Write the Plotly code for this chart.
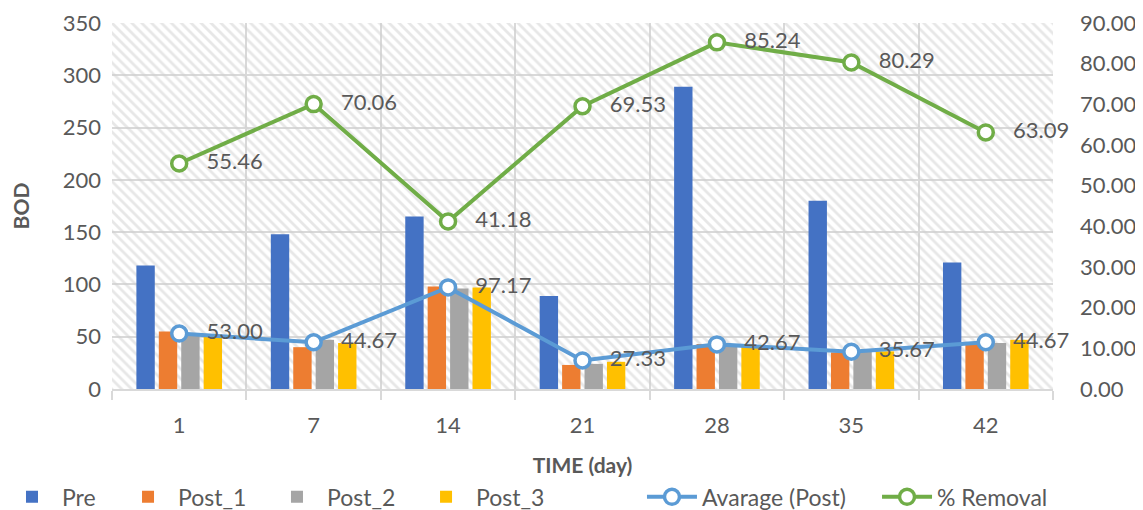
import plotly.graph_objects as go

days = ["1", "7", "14", "21", "28", "35", "42"]
pre = [118, 148, 165, 89, 289, 180, 121]
post_1 = [55, 40, 98, 23, 43, 35, 43]
post_2 = [52, 47, 96, 24, 42, 36, 44]
post_3 = [50, 44, 97, 26, 42, 36, 47]
average_post = [53.00, 44.67, 97.17, 27.33, 42.67, 35.67, 44.67]
removal = [55.46, 70.06, 41.18, 69.53, 85.24, 80.29, 63.09]

left_ticks = list(range(0, 351, 50))
right_ticks = list(range(0, 91, 10))

FONT = "Lato"
GREY_TXT = "#595959"
GRID = "#d9d9d9"

fig = go.Figure()

# hatched plot-area background (decoration) on hidden base axes
fig.add_trace(go.Scatter(
    x=[0, 1, 1, 0, 0], y=[0, 0, 1, 1, 0], xaxis="x", yaxis="y",
    mode="lines", line=dict(width=0), fill="toself",
    fillcolor="rgba(0,0,0,0)",
    fillpattern=dict(shape="\\", fgcolor="#d0d0d0", bgcolor="rgba(0,0,0,0)",
                     size=7, solidity=0.4),
    showlegend=False, hoverinfo="skip"))

bar_series = [("Pre", pre, "#4472C4", "legend"), ("Post_1", post_1, "#ED7D31", "legend2"),
              ("Post_2", post_2, "#A5A5A5", "legend3"), ("Post_3", post_3, "#FFC000", "legend4")]
for name, vals, col, lg in bar_series:
    fig.add_trace(go.Bar(x=days, y=vals, name=name, legend=lg,
                         marker=dict(color=col, line=dict(width=0)),
                         xaxis="x2", yaxis="y2"))

lbl = "\u00a0\u00a0\u00a0%{y:.2f}"
fig.add_trace(go.Scatter(
    x=days, y=average_post, name="Avarage (Post)", legend="legend5", xaxis="x2", yaxis="y2",
    mode="lines+markers+text", line=dict(color="#5B9BD5", width=4),
    marker=dict(size=15, color="white", line=dict(color="#5B9BD5", width=3.5)),
    texttemplate=lbl, textposition="middle right", cliponaxis=False,
    textfont=dict(family=FONT, size=22, color=GREY_TXT)))

fig.add_trace(go.Scatter(
    x=days, y=removal, name="% Removal", legend="legend6", xaxis="x2", yaxis="y3",
    mode="lines+markers+text", line=dict(color="#70AD47", width=4),
    marker=dict(size=15, color="white", line=dict(color="#70AD47", width=3.5)),
    texttemplate=lbl, textposition="middle right", cliponaxis=False,
    textfont=dict(family=FONT, size=22, color=GREY_TXT)))

tickfont = dict(family=FONT, size=22, color=GREY_TXT)


def legend_at(xpos):
    return dict(orientation="h", x=xpos, xanchor="left", y=-0.236, yanchor="top",
                font=dict(family=FONT, size=23, color=GREY_TXT),
                itemwidth=50, bgcolor="rgba(0,0,0,0)")


fig.update_layout(
    width=1135, height=510,
    margin=dict(l=104, r=90, t=15, b=129, autoexpand=False),
    paper_bgcolor="white", plot_bgcolor="white",
    barmode="group", bargap=0.333, bargroupgap=0.18,
    font=dict(family=FONT, color=GREY_TXT),
    xaxis=dict(range=[0, 1], visible=False, fixedrange=True),
    yaxis=dict(range=[0, 1], visible=False, fixedrange=True),
    xaxis2=dict(overlaying="x", anchor="y2", type="category", categoryorder="array",
                categoryarray=days, tickson="boundaries", showgrid=True,
                gridcolor=GRID, gridwidth=1.5, ticks="outside", ticklen=9,
                tickcolor=GRID, tickwidth=1.5, showline=True, linecolor=GRID,
                linewidth=1.5, tickfont=tickfont, ticklabelstandoff=16,
                automargin=False,
                title=dict(text="<b>TIME (day)</b>", standoff=21,
                           font=dict(family=FONT, size=21, color=GREY_TXT))),
    yaxis2=dict(overlaying="y", anchor="x2", side="left", range=[0, 350],
                tickvals=left_ticks, showgrid=True, gridcolor=GRID, gridwidth=1.5,
                zeroline=False, tickfont=tickfont, ticklabelstandoff=10,
                automargin=False,
                title=dict(text="<b>BOD</b>", standoff=27,
                           font=dict(family=FONT, size=21, color=GREY_TXT))),
    yaxis3=dict(overlaying="y", anchor="x2", side="right", range=[0, 90],
                tickvals=right_ticks, tickformat=".2f", showgrid=False,
                zeroline=False, tickfont=tickfont, ticklabelstandoff=26,
                automargin=False),
    legend=legend_at(-0.1169),
    legend2=legend_at(0.0064),
    legend3=legend_at(0.1647),
    legend4=legend_at(0.3231),
    legend5=legend_at(0.5632),
    legend6=legend_at(0.8130),
)

fig.write_html("out.html")
